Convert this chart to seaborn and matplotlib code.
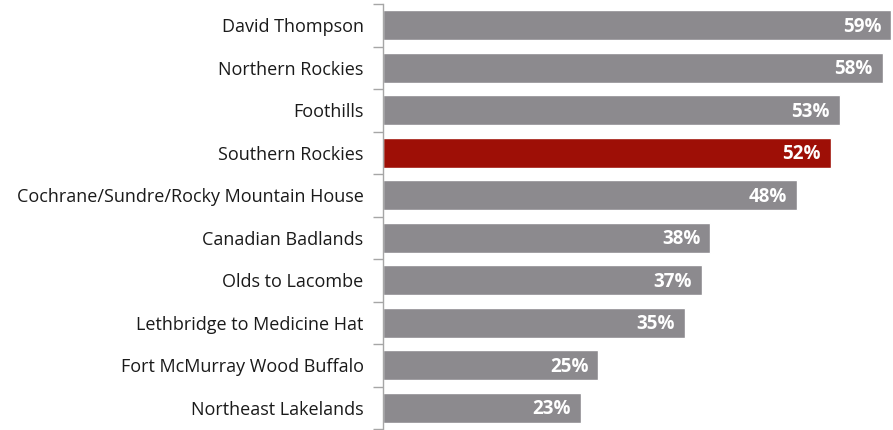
import matplotlib
matplotlib.use("Agg")
import matplotlib.pyplot as plt
import seaborn as sns
import pandas as pd
import numpy as np

regions = ["David Thompson", "Northern Rockies", "Foothills", "Southern Rockies",
           "Cochrane/Sundre/Rocky Mountain House", "Canadian Badlands", "Olds to Lacombe",
           "Lethbridge to Medicine Hat", "Fort McMurray Wood Buffalo", "Northeast Lakelands"]
values = [59, 58, 53, 52, 48, 38, 37, 35, 25, 23]
highlight = "Southern Rockies"

GRAY = "#8C8A8E"
RED = "#9E0F06"

df = pd.DataFrame({"region": regions, "value": values})
df["grp"] = np.where(df["region"] == highlight, "hl", "base")

sns.set_style("white")
plt.rcParams["font.family"] = ["Open Sans", "DejaVu Sans"]

fig = plt.figure(figsize=(8.93, 4.30), dpi=100)
ax = fig.add_axes([383 / 893, 1 - 429 / 430, 1 - 383 / 893, 425 / 430])

sns.barplot(data=df, y="region", x="value", hue="grp", palette={"base": GRAY, "hl": RED},
            orient="h", width=0.7, legend=False, dodge=False, ax=ax, saturation=1)

ax.set_xlim(0, 59.2)
ax.set_ylim(len(regions) - 0.5, -0.5)
ax.set_xlabel("")
ax.set_ylabel("")
ax.set_xticks([])

for sp in ["top", "right", "bottom"]:
    ax.spines[sp].set_visible(False)
ax.spines["left"].set_color("#A6A6A6")
ax.spines["left"].set_linewidth(1.0)

ax.set_yticks(range(len(regions)))
ax.set_yticklabels(regions, fontsize=13, color="#1a1a1a")
ax.tick_params(axis="y", which="major", length=0, pad=14)
ax.set_yticks(np.arange(-0.5, len(regions), 1.0), minor=True)
ax.tick_params(axis="y", which="minor", length=7, width=1.0, color="#A6A6A6", left=True)

for i, v in enumerate(values):
    ax.text(v - 1.15, i + 0.03, f"{v}%", ha="right", va="center", color="white",
            fontsize=13.5, fontweight="bold")

fig.savefig("out.png", dpi=100)
